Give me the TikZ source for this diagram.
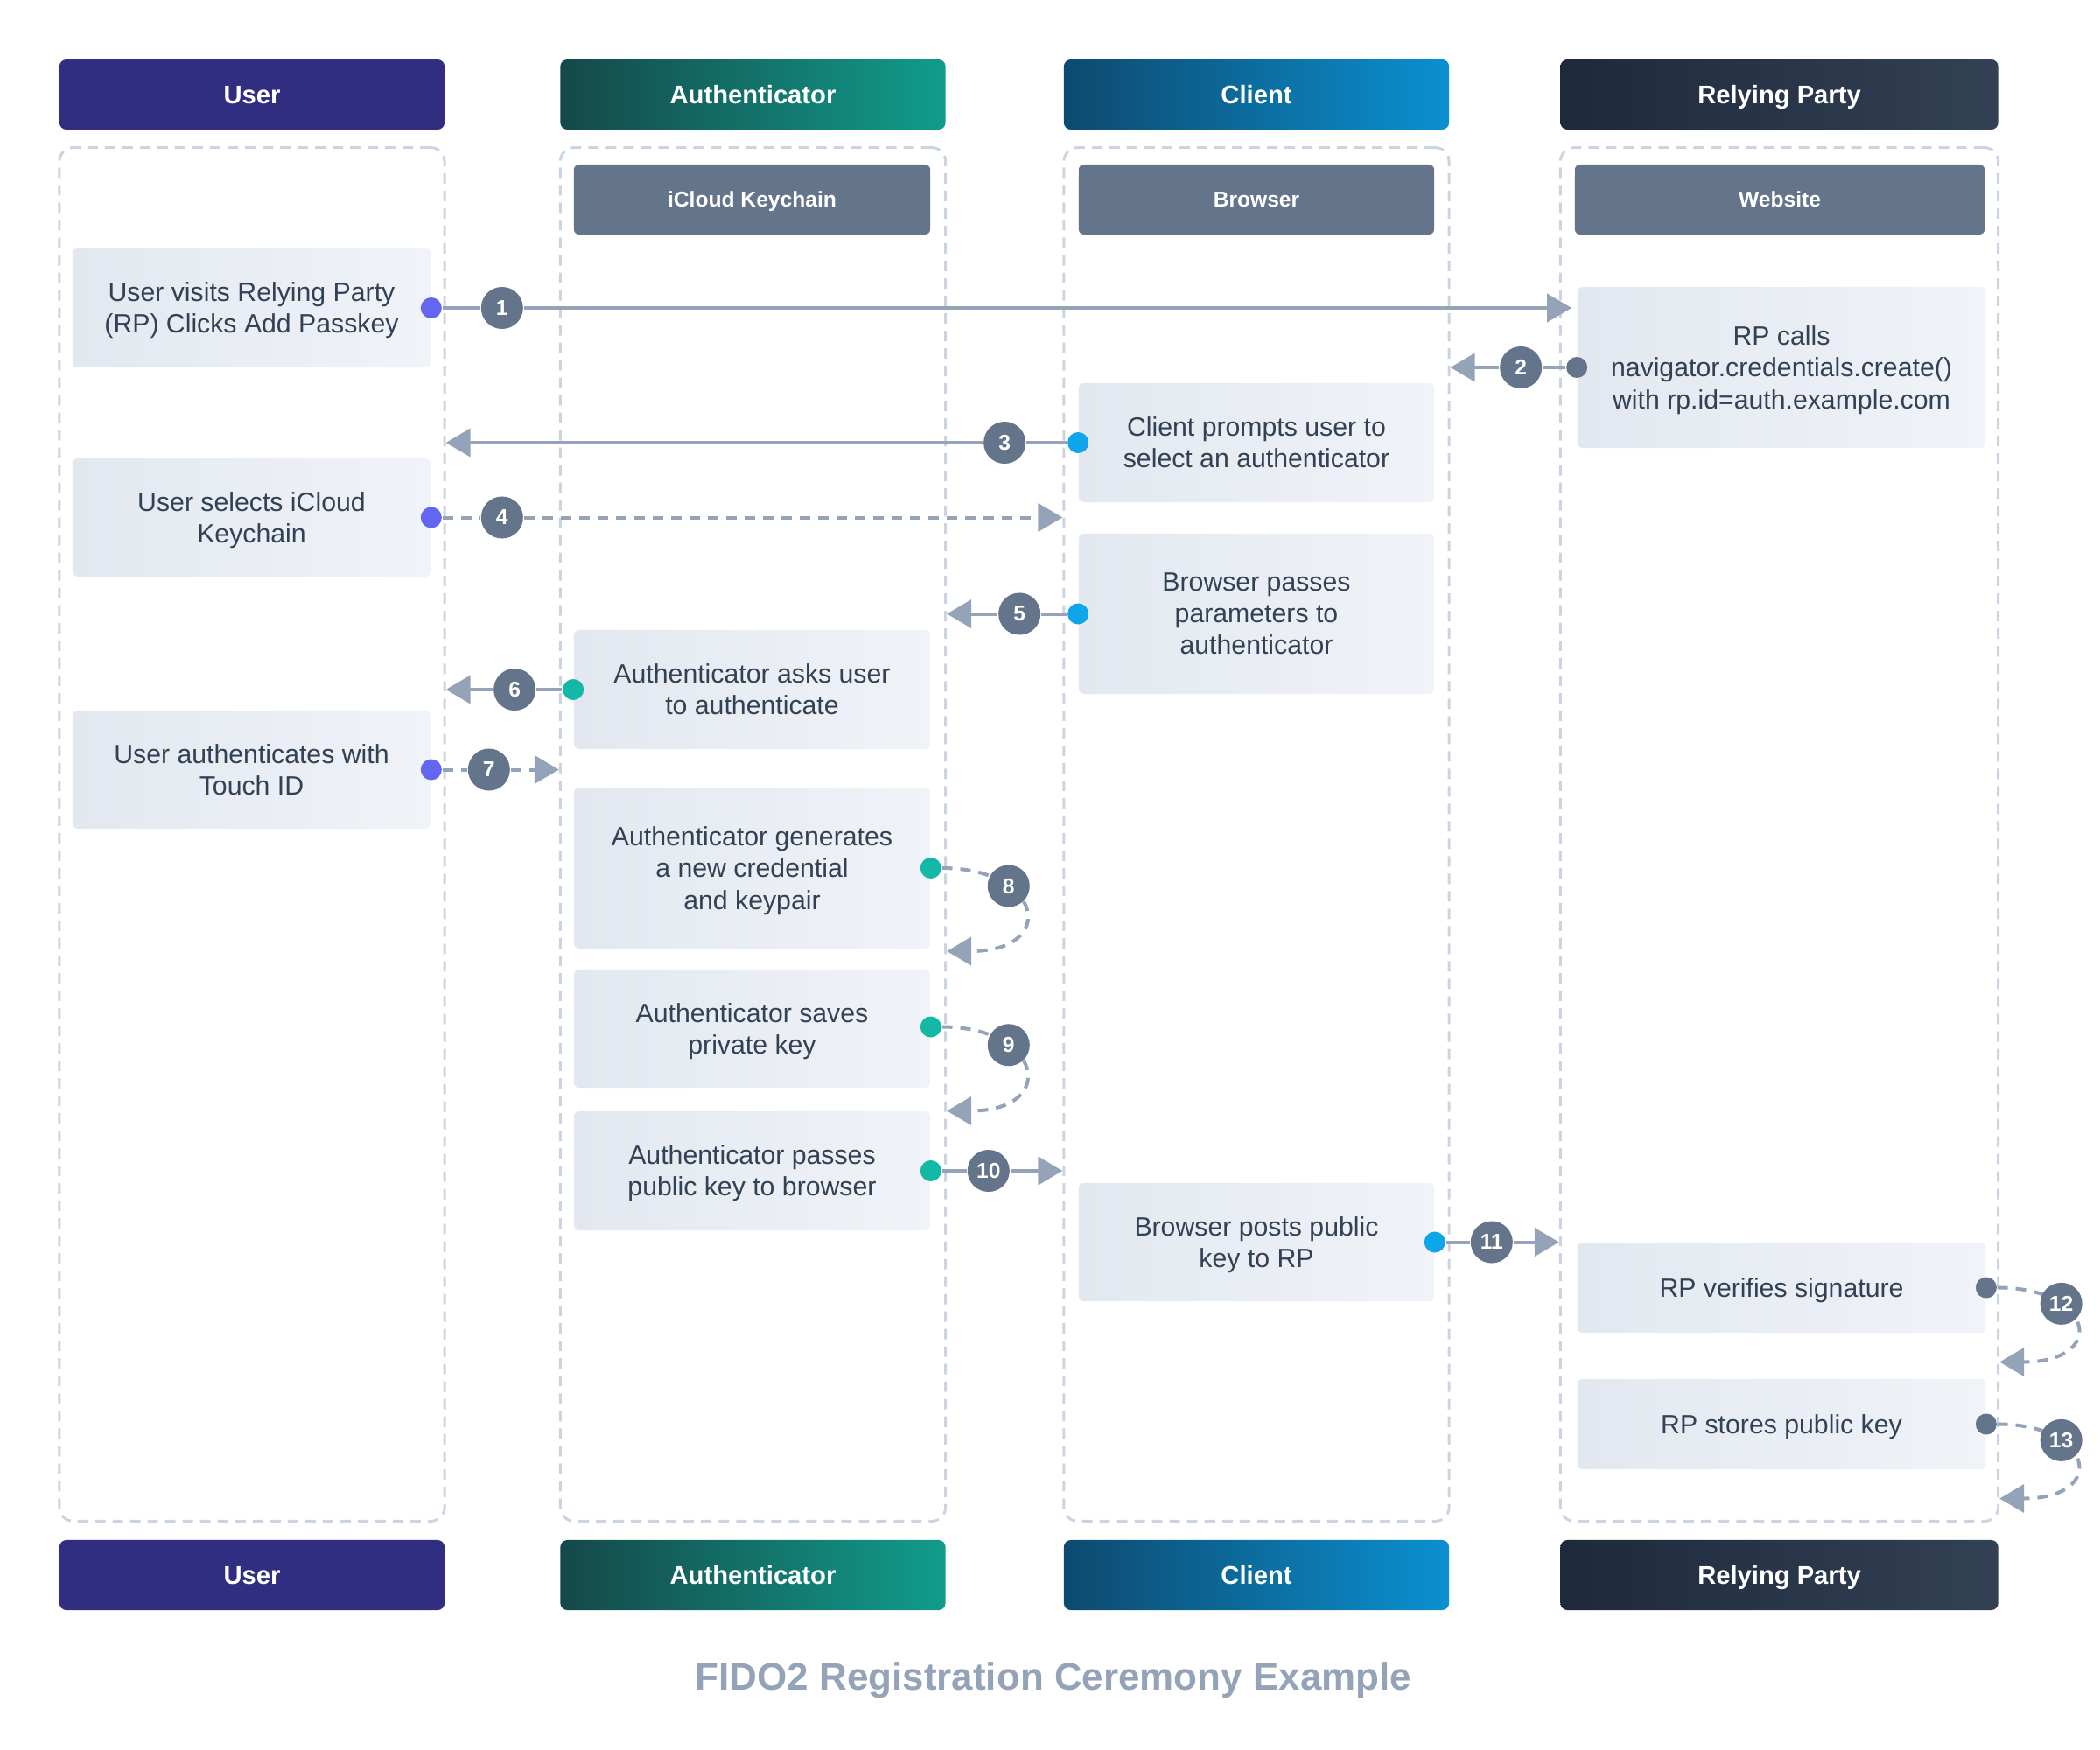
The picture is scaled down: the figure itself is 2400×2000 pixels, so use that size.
\documentclass[tikz,border=0pt]{standalone}
\usepackage{fontspec}
\setmainfont{Liberation Sans}
\usetikzlibrary{arrows.meta,calc,positioning}

\definecolor{userC}{HTML}{312E81}
\definecolor{authL}{HTML}{15484A}
\definecolor{authR}{HTML}{119C8B}
\definecolor{clientL}{HTML}{0D4A6F}
\definecolor{clientR}{HTML}{0B90D0}
\definecolor{rpL}{HTML}{1E293B}
\definecolor{rpR}{HTML}{334155}
\definecolor{subC}{HTML}{64748B}
\definecolor{laneC}{HTML}{CBD5E1}
\definecolor{stepL}{HTML}{E3E8F0}
\definecolor{stepR}{HTML}{F0F3F8}
\definecolor{textC}{HTML}{334155}
\definecolor{lineC}{HTML}{94A3B8}
\definecolor{badgeC}{HTML}{64748B}
\definecolor{dotU}{HTML}{6366F1}
\definecolor{dotA}{HTML}{14B8A6}
\definecolor{dotC}{HTML}{0EA5E9}
\definecolor{dotR}{HTML}{64748B}
\definecolor{titleC}{HTML}{94A3B8}

\tikzset{
  head/.style={rounded corners=0.08cm, minimum height=0.8cm, inner sep=0pt,
    text height=5.95pt, text depth=0pt,
    text=white, font=\bfseries\fontsize{8.3}{10}\selectfont},
  sub/.style={fill=subC, rounded corners=0.06cm, minimum height=0.8cm, inner sep=0pt,
    text height=5pt, text depth=0pt,
    text=white, font=\bfseries\fontsize{7}{8}\selectfont},
  lane/.style={draw=laneC, line width=0.03cm, dash pattern=on 0.12cm off 0.08cm,
    rounded corners=0.16cm, minimum height=15.69cm, inner sep=0pt},
  stepbox/.style={left color=stepL, right color=stepR, rounded corners=0.06cm,
    inner sep=0pt, text depth=0pt, text=textC, align=center,
    font=\fontsize{8.6}{10.25}\selectfont},
  dot/.style={circle, minimum size=0.24cm, inner sep=0pt},
  badge/.style={circle, fill=badgeC, minimum size=0.48cm, inner sep=0pt,
    text=white, font=\bfseries\fontsize{7}{8}\selectfont},
  flow/.style={draw=lineC, line width=0.04cm, -{Triangle[length=0.28cm, width=0.32cm]}},
  flowdash/.style={flow, dash pattern=on 0.12cm off 0.09cm}
}

\begin{document}
\begin{tikzpicture}[x=0.01cm, y=-0.01cm]
  \useasboundingbox (0,0) rectangle (2400,2000);

  % lanes
  \node[lane, minimum width=4.4cm] (userLane) at (288,953.5) {};
  \node[lane, minimum width=4.4cm] (authLane) at (860.5,953.5) {};
  \node[lane, minimum width=4.4cm] (clientLane) at (1436,953.5) {};
  \node[lane, minimum width=5cm] (rpLane) at (2033.5,953.5) {};

  % headers, top and bottom
  \node[head, fill=userC, minimum width=4.4cm] (userTop) at (288,108) {User};
  \node[head, left color=authL, right color=authR, minimum width=4.4cm] (authTop) at (860.5,108) {Authenticator};
  \node[head, left color=clientL, right color=clientR, minimum width=4.4cm] (clientTop) at (1436,108) {Client};
  \node[head, left color=rpL, right color=rpR, minimum width=5cm] (rpTop) at (2033.5,108) {Relying Party};
  \node[head, fill=userC, minimum width=4.4cm] (userBot) at (288,1800) {User};
  \node[head, left color=authL, right color=authR, minimum width=4.4cm] (authBot) at (860.5,1800) {Authenticator};
  \node[head, left color=clientL, right color=clientR, minimum width=4.4cm] (clientBot) at (1436,1800) {Client};
  \node[head, left color=rpL, right color=rpR, minimum width=5cm] (rpBot) at (2033.5,1800) {Relying Party};

  \node[sub, minimum width=4.07cm] (keychain) at (859.5,228) {iCloud Keychain};
  \node[sub, minimum width=4.06cm] (browser) at (1436,228) {Browser};
  \node[sub, minimum width=4.68cm] (website) at (2034,228) {Website};

  % steps
  \node[stepbox, minimum width=4.09cm, minimum height=1.36cm] (uVisit) at (287.5,352) {User visits Relying Party\\(RP) Clicks Add Passkey};
  \node[stepbox, minimum width=4.09cm, minimum height=1.35cm] (uSelect) at (287.5,591.5) {User selects iCloud\\Keychain};
  \node[stepbox, minimum width=4.09cm, minimum height=1.35cm] (uTouch) at (287.5,879.5) {User authenticates with\\Touch ID};
  \node[stepbox, minimum width=4.07cm, minimum height=1.36cm] (aAsk) at (859.5,788) {Authenticator asks user\\to authenticate};
  \node[stepbox, minimum width=4.07cm, minimum height=1.84cm] (aGen) at (859.5,992) {Authenticator generates\\a new credential\\and keypair};
  \node[stepbox, minimum width=4.07cm, minimum height=1.35cm] (aSave) at (859.5,1175.5) {Authenticator saves\\private key};
  \node[stepbox, minimum width=4.07cm, minimum height=1.36cm] (aPass) at (859.5,1338) {Authenticator passes\\public key to browser};
  \node[stepbox, minimum width=4.06cm, minimum height=1.36cm] (cPrompt) at (1436,506) {Client prompts user to\\select an authenticator};
  \node[stepbox, minimum width=4.06cm, minimum height=1.83cm] (cPass) at (1436,701.5) {Browser passes\\parameters to\\authenticator};
  \node[stepbox, minimum width=4.06cm, minimum height=1.35cm] (cPost) at (1436,1419.5) {Browser posts public\\key to RP};
  \node[stepbox, minimum width=4.66cm, minimum height=1.84cm] (rpCall) at (2036,420) {RP calls\\navigator.credentials.create()\\with rp.id=auth.example.com};
  \node[stepbox, minimum width=4.66cm, minimum height=1.03cm] (rpVerify) at (2036,1471.5) {RP verifies signature};
  \node[stepbox, minimum width=4.66cm, minimum height=1.03cm] (rpStore) at (2036,1627.5) {RP stores public key};

  % dots
  \node[dot, fill=dotU] (d1) at (uVisit.east) {};
  \node[dot, fill=dotR] (d2) at (rpCall.west) {};
  \node[dot, fill=dotC] (d3) at (cPrompt.west) {};
  \node[dot, fill=dotU] (d4) at (uSelect.east) {};
  \node[dot, fill=dotC] (d5) at (cPass.west) {};
  \node[dot, fill=dotA] (d6) at (aAsk.west) {};
  \node[dot, fill=dotU] (d7) at (uTouch.east) {};
  \node[dot, fill=dotA] (d8) at (aGen.east) {};
  \node[dot, fill=dotA] (d9) at ($(aSave.east)+(0,-2)$) {};
  \node[dot, fill=dotA] (d10) at (aPass.east) {};
  \node[dot, fill=dotC] (d11) at (cPost.east) {};
  \node[dot, fill=dotR] (d12) at (rpVerify.east) {};
  \node[dot, fill=dotR] (d13) at (rpStore.east) {};

  % badges
  \node[badge] (b1) at ($(d1)+(81,0)$) {1};
  \node[badge] (b2) at ($(d2)+(-64,0)$) {2};
  \node[badge] (b3) at ($(d3)+(-84,0)$) {3};
  \node[badge] (b4) at ($(d4)+(81,0)$) {4};
  \node[badge] (b5) at ($(d5)+(-67,0)$) {5};
  \node[badge] (b6) at ($(d6)+(-67,0)$) {6};
  \node[badge] (b7) at ($(d7)+(66,0)$) {7};
  \node[badge] (b10) at ($(d10)+(66,0)$) {10};
  \node[badge] (b11) at ($(d11)+(65,0)$) {11};

  % arrow ends
  \coordinate (t1) at ($(rpCall.west |- d1)+(-6,0)$);
  \coordinate (t2) at (clientLane.east |- d2);
  \coordinate (t3) at (userLane.east |- d3);
  \coordinate (t4) at (clientLane.west |- d4);
  \coordinate (t5) at (authLane.east |- d5);
  \coordinate (t6) at (userLane.east |- d6);
  \coordinate (t7) at (authLane.west |- d7);
  \coordinate (t8) at ($(authLane.east |- d8)+(0,95)$);
  \coordinate (t9) at ($(authLane.east |- d9)+(0,96)$);
  \coordinate (t10) at (clientLane.west |- d10);
  \coordinate (t11) at (rpLane.west |- d11);
  \coordinate (t12) at ($(rpLane.east |- d12)+(0,85)$);
  \coordinate (t13) at ($(rpLane.east |- d13)+(0,85)$);

  % messages
  \draw[flow] (d1) -- (b1) -- (t1);
  \draw[flow] (d2) -- (b2) -- (t2);
  \draw[flow] (d3) -- (b3) -- (t3);
  \draw[flowdash] (d4) -- (b4) -- (t4);
  \draw[flow] (d5) -- (b5) -- (t5);
  \draw[flow] (d6) -- (b6) -- (t6);
  \draw[flowdash] (d7) -- (b7) -- (t7);
  \draw[flowdash] (d8) .. controls +(128,0) and +(128,0) .. (t8) node[badge, pos=0.3] (b8) {8};
  \draw[flowdash] (d9) .. controls +(128,0) and +(128,0) .. (t9) node[badge, pos=0.3] (b9) {9};
  \draw[flow] (d10) -- (b10) -- (t10);
  \draw[flow] (d11) -- (b11) -- (t11);
  \draw[flowdash] (d12) .. controls +(124,0) and +(124,0) .. (t12) node[badge, pos=0.3] (b12) {12};
  \draw[flowdash] (d13) .. controls +(124,0) and +(124,0) .. (t13) node[badge, pos=0.3] (b13) {13};

  \node[font=\bfseries\fontsize{12.5}{14}\selectfont, text=titleC, text height=9pt, text depth=0pt] (title) at (1204,1916) {FIDO2 Registration Ceremony Example};
\end{tikzpicture}
\end{document}
